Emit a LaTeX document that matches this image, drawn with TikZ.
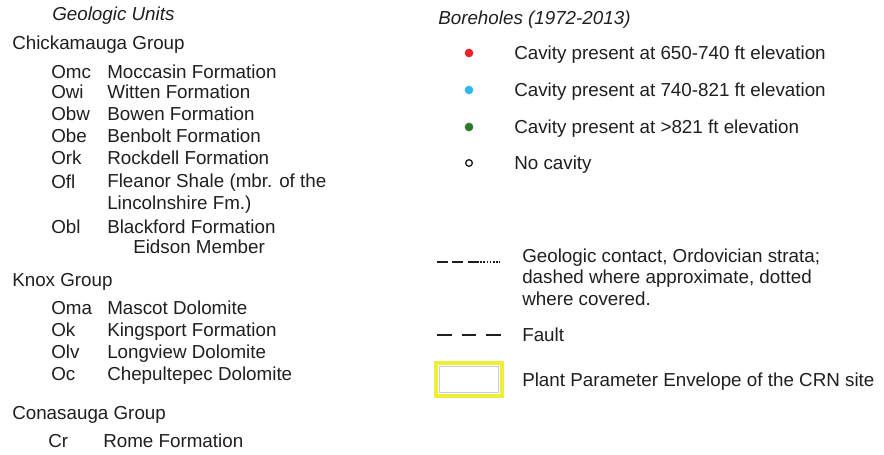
\documentclass[tikz,border=0pt]{standalone}
\usepackage{fontspec}
\setmainfont{Liberation Sans}
\usetikzlibrary{positioning}

\colorlet{legend text}{black!88}
\definecolor{cavity low}{HTML}{E8212B}
\definecolor{cavity mid}{HTML}{2EB8EE}
\definecolor{cavity high}{HTML}{2F7A2A}
\definecolor{ppe edge}{HTML}{EFEF3A}
\def\ppeBox{(436,363) rectangle (502,396)}
\tikzset{
  entry/.style={anchor=base west, inner sep=0pt, text=legend text,
    font=\fontsize{14.1}{16}\selectfont, align=left},
  heading/.style={entry, font=\fontsize{14.1}{16}\selectfont\itshape},
  dot/.style={circle, inner sep=0pt, minimum size=6.5pt},
  contact/.style={draw=legend text, line width=1.1pt},
  fault/.style={draw=legend text, line width=1.6pt, dash pattern=on 11pt off 7.5pt}
  }

\begin{document}
\begin{tikzpicture}[x=0.75pt, y=-0.75pt]
  \useasboundingbox (0,0) rectangle (884,454);

  % geologic units
  \node[heading] (units) at (52,20) {Geologic Units};
  \node[entry] (chick) at (12,49) {Chickamauga Group};
  \node[entry] (knox) at (12,286) {Knox Group};
  \node[entry] (cona) at (12,419) {Conasauga Group};

  \foreach \code/\name/\y in {
      omc/Omc/78, owi/Owi/98, obw/Obw/120, obe/Obe/142, ork/Ork/164,
      ofl/Ofl/188, obl/Obl/233, oma/Oma/314, ok/Ok/336, olv/Olv/358, oc/Oc/380} {
    \node[entry] (\code) at (51,\y) {\name};
  }
  \foreach \code/\desc in {
      omc/Moccasin Formation, owi/Witten Formation, obw/Bowen Formation,
      obe/Benbolt Formation, ork/Rockdell Formation,
      obl/Blackford Formation, oma/Mascot Dolomite, ok/Kingsport Formation,
      olv/Longview Dolomite, oc/Chepultepec Dolomite} {
    \node[entry] (\code-d) at (107,0 |- \code.base) {\desc};
  }
  % base of a two-line node is its last line
  \node[entry] (ofl-d) at (107,209) {Fleanor Shale (mbr. of the\\Lincolnshire Fm.)};
  \node[entry] (obl-m) at (133,253) {Eidson Member};
  \node[entry] (cr) at (48,447) {Cr};
  \node[entry] (cr-d) at (103,447) {Rome Formation};

  % boreholes
  \node[heading] (bore) at (438,24) {Boreholes (1972-2013)};
  \foreach \code/\col/\desc/\y in {
      low/cavity low/Cavity present at 650-740 ft elevation/53,
      mid/cavity mid/Cavity present at 740-821 ft elevation/90,
      high/cavity high/Cavity present at >821 ft elevation/127} {
    \node[dot, fill=\col] (\code) at (469,\y) {};
    \node[entry] (\code-d) at (514,\y+6.6) {\desc};
  }
  \node[dot, draw=legend text, line width=1pt, minimum size=5pt] (none) at (469,163) {};
  \node[entry] (none-d) at (514,169.6) {No cavity};

  % lines and envelope
  \coordinate (gc-a) at (437,262);
  \coordinate (gc-b) at (477,262);
  \coordinate (gc-c) at (500,262);
  \path[contact, dash pattern=on 8pt off 3.5pt] (gc-a) -- (gc-b);
  \path[contact, line width=0.9pt, dash pattern=on 1.2pt off 1.2pt] (gc-b) -- (gc-c);
  \node[entry] (gc-d) at (522,305) {Geologic contact, Ordovician strata;\\dashed where approximate, dotted\\where covered.};

  \coordinate (f-a) at (437,335);
  \coordinate (f-b) at (502,335);
  \path[fault] (f-a) -- (f-b);
  \node[entry] (f-d) at (522,341.6) {Fault};

  \draw[ppe edge, line width=2.4pt] \ppeBox;
  \draw[black!20, line width=0.4pt] (439.5,366.5) rectangle (498.5,392.5);
  \node[entry] (ppe-d) at (522,386.6) {Plant Parameter Envelope of the CRN site};
\end{tikzpicture}
\end{document}
